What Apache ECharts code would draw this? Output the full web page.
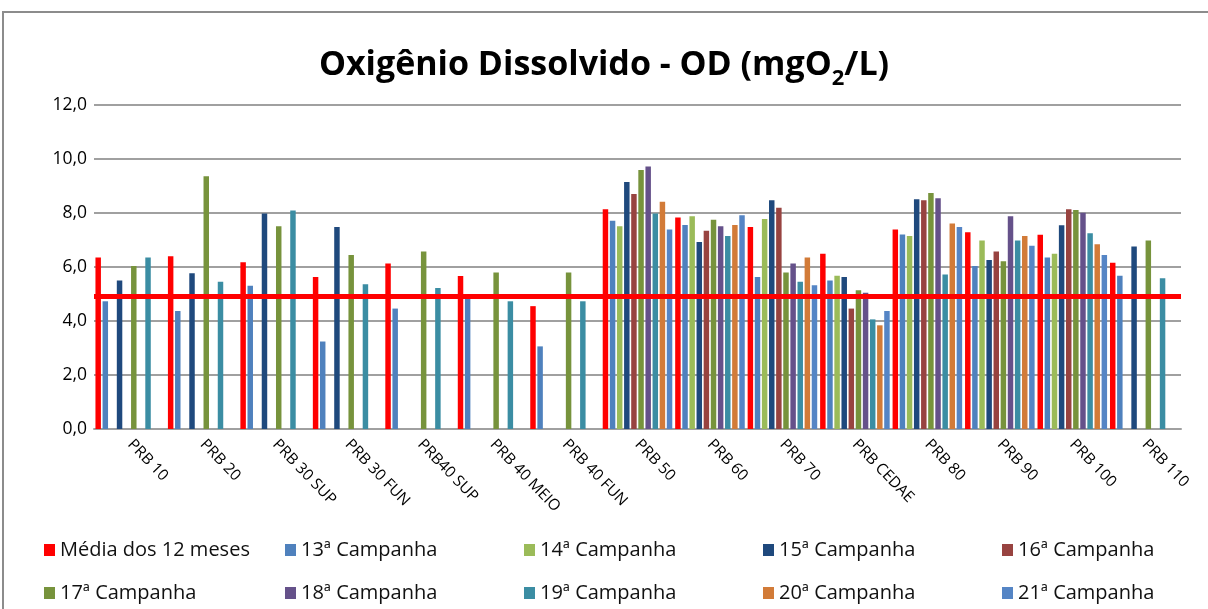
<!DOCTYPE html>
<html>
<head>
<meta charset="utf-8">
<script src="https://cdn.jsdelivr.net/npm/echarts@6/dist/echarts.min.js"></script>
<style>
  html, body { margin: 0; padding: 0; background: #fff; }
  #chart { width: 1208px; height: 609px; }
</style>
</head>
<body>
<div id="chart"></div>
<script>
// pontos de coleta
var categorias = ['PRB 10', 'PRB 20', 'PRB 30 SUP', 'PRB 30 FUN', 'PRB40 SUP', 'PRB 40 MEIO', 'PRB 40 FUN',
  'PRB 50', 'PRB 60', 'PRB 70', 'PRB CEDAE', 'PRB 80', 'PRB 90', 'PRB 100', 'PRB 110'];

var media12 = [6.35, 6.40, 6.18, 5.63, 6.13, 5.67, 4.55, 8.14, 7.83, 7.48, 6.49, 7.39, 7.29, 7.19, 6.16];
var camp13 = [4.73, 4.37, 5.31, 3.24, 4.46, 4.84, 3.06, 7.71, 7.56, 5.63, 5.50, 7.20, 6.04, 6.35, 5.68];
var camp14 = [null, null, null, null, null, null, null, 7.51, 7.88, 7.78, 5.68, 7.15, 6.98, 6.49, null];
var camp15 = [5.50, 5.77, 7.98, 7.48, null, null, null, 9.15, 6.93, 8.47, 5.63, 8.51, 6.26, 7.55, 6.76];
var camp16 = [null, null, null, null, null, null, null, 8.70, 7.34, 8.19, 4.46, 8.47, 6.57, 8.14, null];
var camp17 = [6.04, 9.36, 7.51, 6.44, 6.57, 5.80, 5.80, 9.59, 7.75, 5.80, 5.14, 8.74, 6.21, 8.11, 6.98];
var camp18 = [null, null, null, null, null, null, null, 9.72, 7.51, 6.13, 5.05, 8.55, 7.88, 8.01, null];
var camp19 = [6.35, 5.45, 8.09, 5.36, 5.22, 4.73, 4.73, 7.98, 7.15, 5.45, 4.06, 5.72, 6.98, 7.25, 5.58];
var camp20 = [null, null, null, null, null, null, null, 8.42, 7.56, 6.35, 3.84, 7.61, 7.15, 6.84, null];
var camp21 = [null, null, null, null, null, null, null, 7.39, 7.92, 5.32, 4.37, 7.48, 6.79, 6.44, null];

var nomes = ['Média dos 12 meses', '13ª Campanha', '14ª Campanha', '15ª Campanha', '16ª Campanha',
  '17ª Campanha', '18ª Campanha', '19ª Campanha', '20ª Campanha', '21ª Campanha'];
var limite = 4.93; // linha vermelha (limite)
var yTicks = [0, 2, 4, 6, 8, 10, 12];

var cores = ['#ff0000', '#4f81bd', '#9bbb59', '#1f497d', '#984340', '#77933c', '#65518a', '#3b8da3', '#d27b38', '#5585c5'];
var valores = [media12, camp13, camp14, camp15, camp16, camp17, camp18, camp19, camp20, camp21];

var fonte = '"Open Sans", "Liberation Sans", sans-serif';

var myChart = echarts.init(document.getElementById('chart'));

var series = [];
for (var i = 0; i < nomes.length; i++) {
  var s = {
    name: nomes[i],
    type: 'bar',
    data: valores[i],
    barGap: '30%',
    barCategoryGap: '4%',
    itemStyle: { color: cores[i] }
  };
  if (i == nomes.length - 1) {
    s.markLine = {
      silent: true,
      symbol: 'none',
      z: 10,
      label: { show: false },
      lineStyle: { color: '#ff0000', width: 5, type: 'solid' },
      data: [{ yAxis: limite }]
    };
  }
  series.push(s);
}

// legenda em grade 5 x 2 como no Excel
var colX = [39, 280, 519, 758, 997];
var rowY = [535, 578];
var legends = [];
for (var j = 0; j < nomes.length; j++) {
  legends.push({
    data: [nomes[j]],
    left: colX[j % 5],
    top: rowY[Math.floor(j / 5)],
    itemWidth: 11,
    itemHeight: 12,
    icon: 'rect',
    textStyle: { fontFamily: fonte, fontSize: 20, color: '#111' }
  });
}

option = {
  animation: false,
  backgroundColor: '#fff',
  graphic: [{
    type: 'rect',
    shape: { x: 3, y: 12, width: 1230, height: 640 },
    style: { fill: 'none', stroke: '#8c8c8c', lineWidth: 2 }
  }],
  title: {
    text: '{a|Oxigênio Dissolvido - OD (mgO}{s|2}{a|/L)}',
    left: 'center',
    top: 43,
    textStyle: {
      rich: {
        a: { fontFamily: fonte, fontSize: 34, fontWeight: 'bold', color: '#000', lineHeight: 42, verticalAlign: 'top', padding: [0, 0, 6, 0] },
        s: { fontFamily: fonte, fontSize: 22, fontWeight: 'bold', color: '#000', lineHeight: 24, verticalAlign: 'bottom' }
      }
    }
  },
  legend: legends,
  grid: { left: 94, right: 27, top: 105, bottom: 180 },
  xAxis: {
    type: 'category',
    data: categorias,
    axisLine: { lineStyle: { color: '#a0a0a0', width: 2 } },
    axisTick: { show: false },
    axisLabel: {
      interval: 0,
      rotate: -46,
      margin: 13,
      fontFamily: fonte,
      fontSize: 15.5,
      color: '#000'
    }
  },
  yAxis: {
    type: 'value',
    min: yTicks[0],
    max: yTicks[yTicks.length - 1],
    interval: 2,
    axisLine: { show: false },
    axisTick: { show: false },
    splitLine: { lineStyle: { color: '#a0a0a0', width: 2 } },
    axisLabel: {
      margin: 7,
      fontFamily: fonte,
      fontSize: 17.5,
      color: '#000',
      formatter: function(v) { return v.toFixed(1).replace('.', ','); }
    }
  },
  series: series
};
myChart.setOption(option);
</script>
</body>
</html>
